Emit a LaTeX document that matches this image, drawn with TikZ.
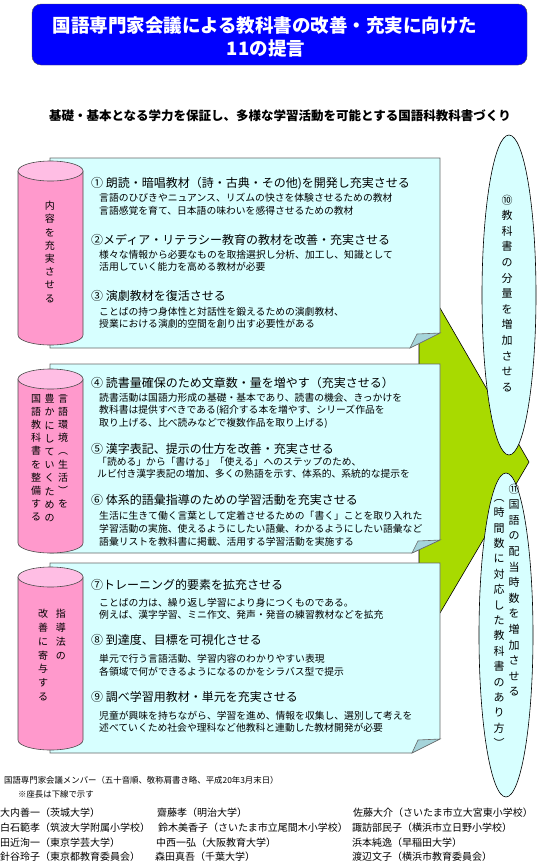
\documentclass[tikz,border=0pt]{standalone}
\usepackage{fontspec}
\setmainfont{Noto Sans CJK JP}
\definecolor{titleBlue}{RGB}{0,0,255}
\definecolor{noteCyan}{RGB}{215,255,255}
\definecolor{foldTeal}{RGB}{165,212,218}
\definecolor{cylPink}{RGB}{255,153,204}
\definecolor{cylTop}{RGB}{255,190,228}
\definecolor{arrowGreen}{RGB}{168,218,0}
\newcommand{\pSize}[2]{\fontsize{#1}{#2}\selectfont}

\begin{document}
\begin{tikzpicture}[x=1pt,y=-1pt,
  head/.style={anchor=base west, inner sep=0pt, font=\pSize{12}{12}},
  line/.style={anchor=base west, inner sep=0pt, font=\pSize{9.8}{9.8}},
  tate/.style={anchor=north, inner sep=0pt, align=center, font=\pSize{10}{13.2}},
  tatebig/.style={anchor=north, inner sep=0pt, align=center, font=\pSize{11}{15.6}},
  member/.style={anchor=base west, inner sep=0pt, font=\pSize{10}{10}},
  note/.style={draw=black!60, fill=noteCyan, line width=0.6pt},
  flap/.style={draw=black!60, fill=foldTeal, line width=0.6pt},
  cylside/.style={draw=black!70, fill=cylPink, line width=0.6pt},
  cyltop/.style={draw=black!70, fill=cylTop, line width=0.6pt},
  bubble/.style={draw=black, fill=noteCyan, line width=0.6pt}]
\useasboundingbox (0,0) rectangle (542,863);

\node[draw=black!70, fill=titleBlue, rounded corners=9pt, minimum width=495pt, minimum height=61pt, inner sep=0pt] (titlebox) at (279.5,34.5) {};
\node[anchor=base, inner sep=0pt, text=white, font=\pSize{18.5}{18.5}\bfseries] (title1) at (265,32.5) {国語専門家会議による教科書の改善・充実に向けた};
\node[anchor=base, inner sep=0pt, text=white, font=\pSize{18.5}{18.5}\bfseries] (title2) at (266,55.5) {11の提言};
\node[anchor=base, inner sep=0pt, font=\pSize{12.5}{12.5}\bfseries] (aim) at (280,120.5) {基礎・基本となる学力を保証し、多様な学習活動を可能とする国語科教科書づくり};

\draw[draw=black, fill=arrowGreen, line width=0.6pt] (419,308) -- (440,308) -- (529,462) -- (440,613) -- (419,613) -- cycle;

\draw[note] (50,158) -- (440,158) -- (440,333) -- (410,348) -- (50,348) -- cycle;
\draw[flap] (410,348) -- (417,334) -- (440,333) -- cycle;
\draw[note] (50,364) -- (440,364) -- (440,540) -- (412,553) -- (50,553) -- cycle;
\draw[flap] (412,553) -- (418,541) -- (440,540) -- cycle;
\draw[note] (50,563) -- (440,563) -- (440,739) -- (412,753) -- (50,753) -- cycle;
\draw[flap] (412,753) -- (418,740) -- (440,739) -- cycle;

\draw[cylside] (18,171) -- (18,335) arc[start angle=180, end angle=360, x radius=32.5pt, y radius=10pt] -- (83,171) -- cycle;
\draw[cyltop] (50.5,171) ellipse[x radius=32.5pt, y radius=10pt];
\draw[cylside] (18,379) -- (18,543) arc[start angle=180, end angle=360, x radius=32.5pt, y radius=10pt] -- (83,379) -- cycle;
\draw[cyltop] (50.5,379) ellipse[x radius=32.5pt, y radius=10pt];
\draw[cylside] (18,577) -- (18,740) arc[start angle=180, end angle=360, x radius=32.5pt, y radius=10pt] -- (83,577) -- cycle;
\draw[cyltop] (50.5,577) ellipse[x radius=32.5pt, y radius=10pt];

\node[tate] (cylA) at (50,201) {内\\容\\を\\充\\実\\さ\\せ\\る};
\node[tate] (cylBr) at (63,394) {言\\語\\環\\境\\︵\\生\\活\\︶\\を};
\node[tate] (cylBm) at (49.5,394) {豊\\か\\に\\し\\て\\い\\く\\た\\め\\の};
\node[tate] (cylBl) at (36,394) {国\\語\\教\\科\\書\\を\\整\\備\\す\\る};
\node[tate, font=\pSize{10}{13.8}] (cylCr) at (61,609) {指\\導\\法\\の};
\node[tate, font=\pSize{10}{13.8}] (cylCl) at (43,609) {改\\善\\に\\寄\\与\\す\\る};

\draw[bubble] (509,295) ellipse[x radius=27pt, y radius=160pt];
\draw[bubble] (506,635) ellipse[x radius=27pt, y radius=162pt];
\node[tatebig] (bubbleA) at (507,194.5) {⑩\\教\\科\\書\\の\\分\\量\\を\\増\\加\\さ\\せ\\る};
\node[tatebig] (bubbleBr) at (514,483.5) {⑪\\国\\語\\の\\配\\当\\時\\数\\を\\増\\加\\さ\\せ\\る};
\node[tatebig, font=\pSize{11}{15.4}] (bubbleBl) at (499,499) {︵\\時\\間\\数\\に\\対\\応\\し\\た\\教\\科\\書\\の\\あ\\り\\方\\︶};

\node[head] (h1) at (91,187.4) {① 朗読・暗唱教材（詩・古典・その他)を開発し充実させる};
\node[line] (t1a) at (99,201.6) {言語のひびきやニュアンス、リズムの快さを体験させるための教材};
\node[line] (t1b) at (99,214.6) {言語感覚を育て、日本語の味わいを感得させるための教材};
\node[head] (h2) at (91,244.4) {②メディア・リテラシー教育の教材を改善・充実させる};
\node[line] (t2a) at (99,258.6) {様々な情報から必要なものを取捨選択し分析、加工し、知識として};
\node[line] (t2b) at (99,270.6) {活用していく能力を高める教材が必要};
\node[head] (h3) at (91,300.4) {③ 演劇教材を復活させる};
\node[line] (t3a) at (99,315.6) {ことばの持つ身体性と対話性を鍛えるための演劇教材、};
\node[line] (t3b) at (99,327.6) {授業における演劇的空間を創り出す必要性がある};

\node[head] (h4) at (91,387.4) {④ 読書量確保のため文章数・量を増やす（充実させる）};
\node[line] (t4a) at (99,401.6) {読書活動は国語力形成の基礎・基本であり、読書の機会、きっかけを};
\node[line] (t4b) at (99,413.6) {教科書は提供すべきである(紹介する本を増やす、シリーズ作品を};
\node[line] (t4c) at (99,426.6) {取り上げる、比べ読みなどで複数作品を取り上げる)};
\node[head] (h5) at (91,453.4) {⑤ 漢字表記、提示の仕方を改善・充実させる};
\node[line] (t5a) at (97,465.6) {「読める」から「書ける」「使える」へのステップのため、};
\node[line] (t5b) at (97,477.6) {ルビ付き漢字表記の増加、多くの熟語を示す、体系的、系統的な提示を};
\node[head] (h6) at (91,504.4) {⑥ 体系的語彙指導のための学習活動を充実させる};
\node[line] (t6a) at (99,519.6) {生活に生きて働く言葉として定着させるための「書く」ことを取り入れた};
\node[line] (t6b) at (99,532.6) {学習活動の実施、使えるようにしたい語彙、わかるようにしたい語彙など};
\node[line] (t6c) at (99,545.6) {語彙リストを教科書に掲載、活用する学習活動を実施する};

\node[head] (h7) at (91,589.4) {⑦トレーニング的要素を拡充させる};
\node[line] (t7a) at (99,606.6) {ことばの力は、繰り返し学習により身につくものである。};
\node[line] (t7b) at (99,618.6) {例えば、漢字学習、ミニ作文、発声・発音の練習教材などを拡充};
\node[head] (h8) at (91,644.4) {⑧ 到達度、目標を可視化させる};
\node[line] (t8a) at (99,662.6) {単元で行う言語活動、学習内容のわかりやすい表現};
\node[line] (t8b) at (99,675.6) {各領域で何ができるようになるのかをシラバス型で提示};
\node[head] (h9) at (91,701.4) {⑨ 調べ学習用教材・単元を充実させる};
\node[line] (t9a) at (99,719.6) {児童が興味を持ちながら、学習を進め、情報を収集し、選別して考えを};
\node[line] (t9b) at (99,731.6) {述べていくため社会や理科など他教科と連動した教材開発が必要};

\node[anchor=base west, inner sep=0pt, font=\pSize{8.4}{8.4}] (members) at (4,783) {国語専門家会議メンバー（五十音順、敬称肩書き略、平成20年3月末日）};
\node[anchor=base west, inner sep=0pt, font=\pSize{8.4}{8.4}] (chair) at (18,797) {※座長は下線で示す};
\node[member] (m1a) at (0,816) {大内善一（茨城大学）};
\node[member] (m1b) at (157,816) {齋藤孝（明治大学）};
\node[member] (m1c) at (353,816) {佐藤大介（さいたま市立大宮東小学校）};
\node[member] (m2a) at (0,831) {白石範孝（筑波大学附属小学校）};
\node[member] (m2b) at (158,831) {鈴木美香子（さいたま市立尾間木小学校）};
\node[member] (m2c) at (352,831) {諏訪部民子（横浜市立日野小学校）};
\node[member] (m3a) at (0,846) {田近洵一（東京学芸大学）};
\node[member] (m3b) at (156,846) {中西一弘（大阪教育大学）};
\node[member] (m3c) at (352,846) {浜本純逸（早稲田大学）};
\node[member] (m4a) at (0,860) {針谷玲子（東京都教育委員会）};
\node[member] (m4b) at (155,860) {森田真吾（千葉大学）};
\node[member] (m4c) at (352,860) {渡辺文子（横浜市教育委員会）};
\end{tikzpicture}
\end{document}
